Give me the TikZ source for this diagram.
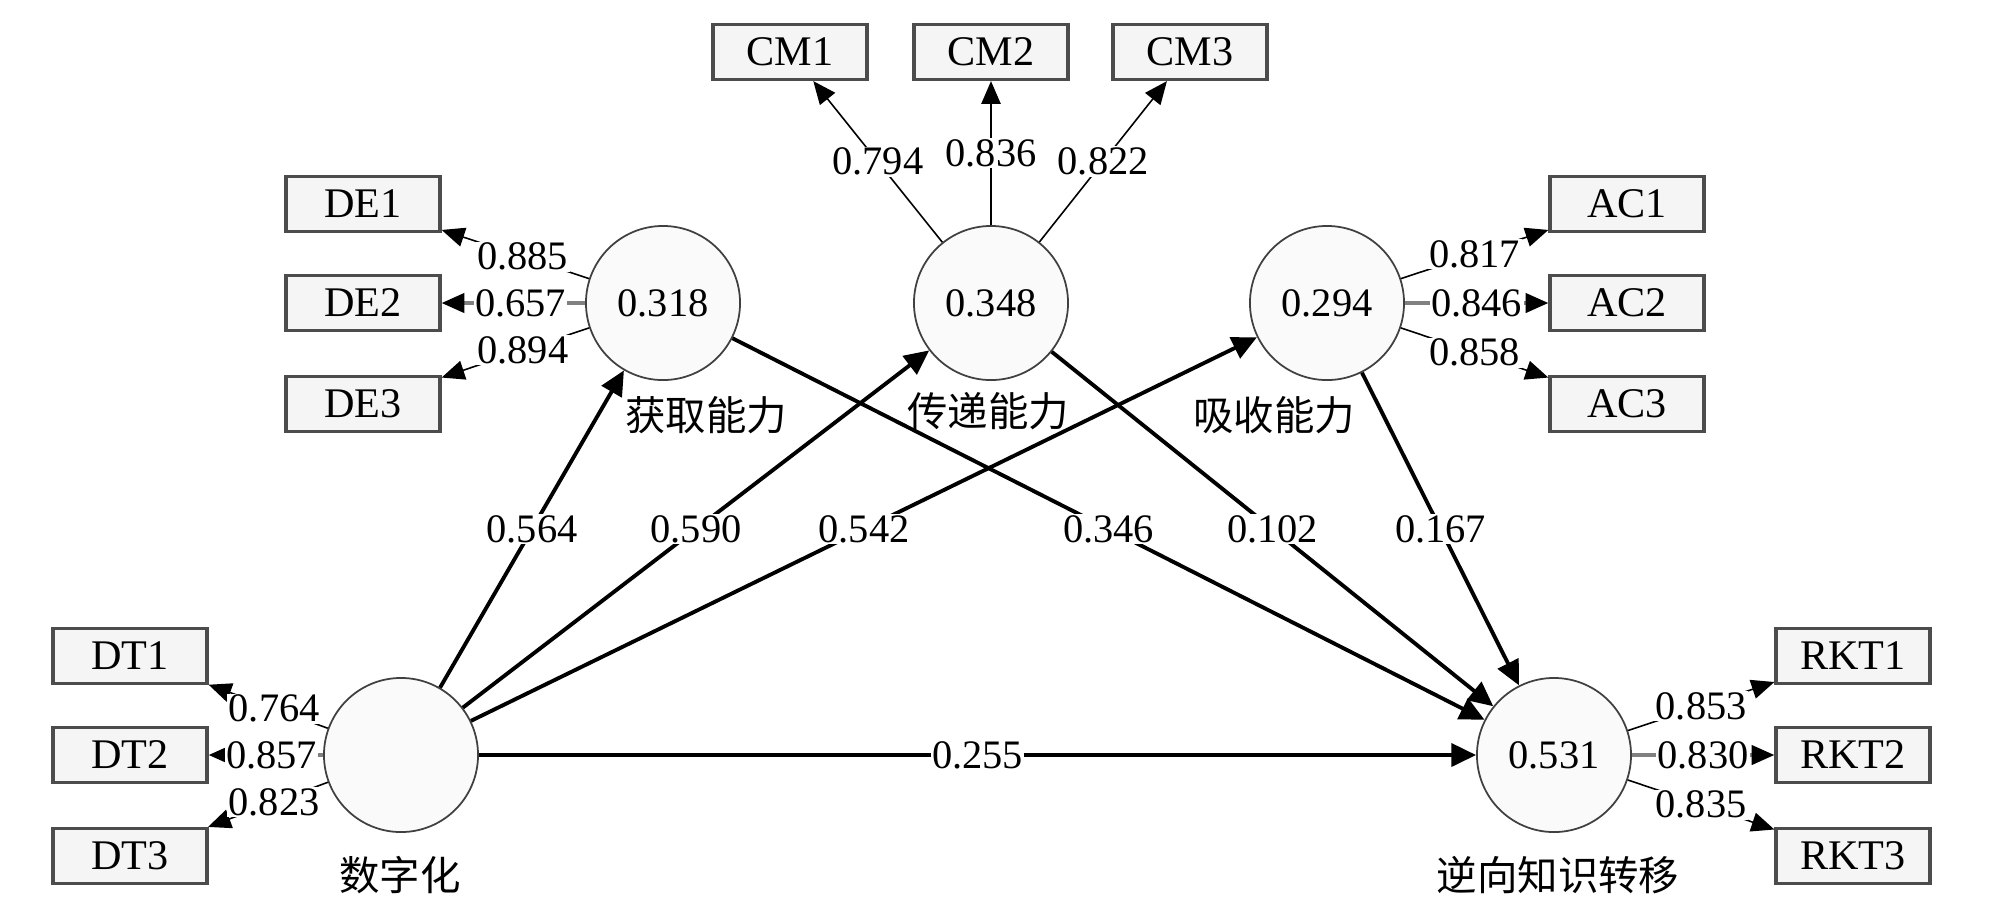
\documentclass[tikz,border=0pt]{standalone}
\usepackage{fontspec}
\setmainfont{Liberation Serif}
\newfontfamily\cjk{Noto Sans CJK SC}
\usepackage{tikz}
\usetikzlibrary{arrows.meta}

\begin{document}
\begin{tikzpicture}[x=0.01cm, y=-0.01cm,
  latent/.style={draw=black!75, fill=black!2, circle, minimum size=1.54cm, inner sep=0pt, line width=0.5pt, font=\fontsize{11.5}{13}\selectfont},
  indicator/.style={draw=black!70, fill=black!4, minimum width=1.54cm, minimum height=0.55cm, inner sep=0pt, line width=0.9pt, font=\fontsize{12}{14}\selectfont},
  lvname/.style={font=\cjk\fontsize{11.5}{13}\selectfont},
  lbl/.style={fill=white, inner sep=0.4pt, font=\fontsize{11.5}{13}\selectfont},
  loading/.style={-{Triangle[length=6.5pt,width=5.5pt,black]}, line width=0.45pt},
  loadingh/.style={loading, draw=black!50, line width=1pt},
  effect/.style={-{Triangle[length=7pt,width=6.5pt]}, line width=1.1pt}
]
\useasboundingbox (0,0) rectangle (1999,923);
% 潜变量
\node[latent] (dt) at (401,755) {};
\node[latent] (de) at (663,303) {0.318};
\node[latent] (cm) at (991,303) {0.348};
\node[latent] (ac) at (1327,303) {0.294};
\node[latent] (rkt) at (1554,755) {0.531};
\node[lvname] (dtname) at (400,875) {数字化};
\node[lvname] (dename) at (706,415) {获取能力};
\node[lvname] (cmname) at (988,411) {传递能力};
\node[lvname] (acname) at (1274,415) {吸收能力};
\node[lvname] (rktname) at (1558,875) {逆向知识转移};
% 测量题项
\node[indicator] (dt1) at (130,656) {DT1};
\node[indicator] (dt2) at (130,755) {DT2};
\node[indicator] (dt3) at (130,856) {DT3};
\node[indicator] (de1) at (363,204) {DE1};
\node[indicator] (de2) at (363,303) {DE2};
\node[indicator] (de3) at (363,404) {DE3};
\node[indicator] (cm1) at (790,52) {CM1};
\node[indicator] (cm2) at (991,52) {CM2};
\node[indicator] (cm3) at (1190,52) {CM3};
\node[indicator] (ac1) at (1627,204) {AC1};
\node[indicator] (ac2) at (1627,303) {AC2};
\node[indicator] (ac3) at (1627,404) {AC3};
\node[indicator] (rkt1) at (1853,656) {RKT1};
\node[indicator] (rkt2) at (1853,755) {RKT2};
\node[indicator] (rkt3) at (1853,856) {RKT3};
% 因子载荷
\draw[loading] (dt) -- node[lbl, pos=0.45] {0.764} (dt1);
\draw[loadingh] (dt) -- node[lbl, pos=0.45] {0.857} (dt2);
\draw[loading] (dt) -- node[lbl, pos=0.45] {0.823} (dt3);
\draw[loading] (de) -- node[lbl, pos=0.45] {0.885} (de1);
\draw[loadingh] (de) -- node[lbl, pos=0.45] {0.657} (de2);
\draw[loading] (de) -- node[lbl, pos=0.45] {0.894} (de3);
\draw[loading] (cm) -- node[lbl] {0.794} (cm1);
\draw[loading] (cm) -- node[lbl] {0.836} (cm2);
\draw[loading] (cm) -- node[lbl] {0.822} (cm3);
\draw[loading] (ac) -- node[lbl] {0.817} (ac1);
\draw[loadingh] (ac) -- node[lbl] {0.846} (ac2);
\draw[loading] (ac) -- node[lbl] {0.858} (ac3);
\draw[loading] (rkt) -- node[lbl] {0.853} (rkt1);
\draw[loadingh] (rkt) -- node[lbl] {0.830} (rkt2);
\draw[loading] (rkt) -- node[lbl] {0.835} (rkt3);
% 路径系数
\draw[effect] (dt) -- node[lbl] {0.564} (de);
\draw[effect] (dt) -- node[lbl] {0.590} (cm);
\draw[effect] (dt) -- node[lbl] {0.542} (ac);
\draw[effect] (de) -- node[lbl] {0.346} (rkt);
\draw[effect] (cm) -- node[lbl] {0.102} (rkt);
\draw[effect] (ac) -- node[lbl] {0.167} (rkt);
\draw[effect] (dt) -- node[lbl] {0.255} (rkt);
\end{tikzpicture}
\end{document}
